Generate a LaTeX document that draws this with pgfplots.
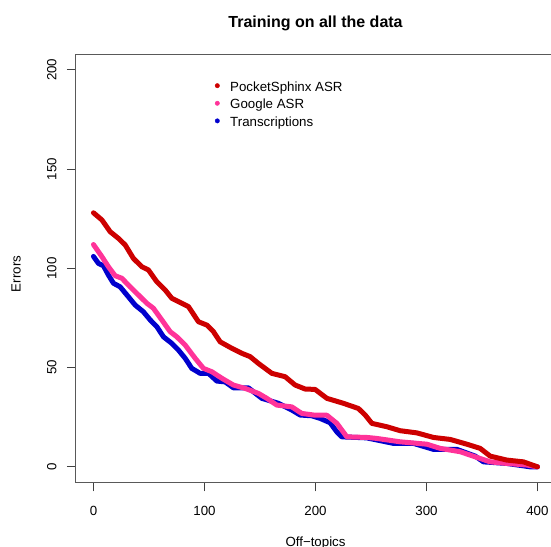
\documentclass[border=0pt]{standalone}
\usepackage{pgfplots}
\pgfplotsset{compat=1.18}
\usepackage{fontspec}
\setmainfont{Liberation Sans}
\definecolor{rred}{HTML}{CD0000}
\definecolor{rpink}{HTML}{FF3399}
\definecolor{rblue}{HTML}{0000CD}
\begin{document}
\begin{tikzpicture}[x=1pt,y=1pt]
\begin{axis}[
  at={(75.7pt,63.3pt)}, anchor=south west,
  scale only axis, width=479.5pt, height=428.7pt,
  xmin=-16, xmax=416, ymin=-8, ymax=208,
  xtick={0,100,200,300,400}, ytick={0,50,100,150,200},
  tick align=outside, major tick length=8.7pt,
  xtick pos=bottom, ytick pos=left,
  axis line style={draw=black!65, line width=0.9pt},
  every tick/.style={draw=black!75, line width=0.9pt},
  /pgf/number format/assume math mode=true,
  tick label style={font=\fontsize{13.3}{16}\selectfont},
  xticklabel shift=11pt, yticklabel shift=7pt,
  yticklabel style={rotate=90, anchor=south},
  legend style={at={(0.2891,0.9408)}, anchor=north west, draw=none, fill=none,
    inner sep=0pt, outer sep=0pt, row sep=0pt,
    nodes={inner sep=0pt, text height=12pt, text depth=5.6pt},
    font=\fontsize{13.3}{16}\selectfont},
  legend cell align=left,
  legend image code/.code={\path[draw=none,fill=none] (-3pt,0pt) -- (12.9pt,0pt); \fill (0pt,2.5pt) circle (2.2pt);},
]
\addlegendimage{rred}
\addlegendentry{PocketSphinx ASR}
\addlegendimage{rpink}
\addlegendentry{Google ASR}
\addlegendimage{rblue}
\addlegendentry{Transcriptions}
\addplot[rblue, line width=5pt, line cap=round, line join=round, forget plot] coordinates {
(0,106) (4.5,102.5) (9,101.3) (13.5,96.6) (18,92.5) (24,90.7) (30.1,86.6) (37.6,81.5) (45,78.1) (51.1,74) (57.1,70.6) (63.1,65.5) (70.6,62.2) (76.6,58.8) (82.6,54.7) (88.6,49.6) (96.1,47.1) (103.6,47.1) (111.2,43.2) (118.6,42.8) (126.1,39.8) (139.6,39.8) (151.7,34.5) (166.7,32) (178.7,28.6) (186.2,26.1) (196.7,25.7) (204.2,24.4) (213.2,22.2) (219.3,17.6) (223.8,15.1) (246,14.6) (270.3,11.8) (288.3,11.8) (306.3,8.8) (327.4,8.8) (343.9,5.4) (351.4,2.5) (372.4,1.7) (393.4,0) (400,0)
};
\addplot[rpink, line width=5pt, line cap=round, line join=round, forget plot] coordinates {
(0,112) (7.6,105.9) (13.5,100.8) (19.5,96.3) (25.6,95) (33,90.7) (40.5,86.6) (48.1,82.4) (54,79.9) (61.6,74) (69.1,68.1) (75.1,65.5) (82.6,61.4) (91.6,54.7) (99.1,49.6) (106.7,47.9) (115.7,44.6) (126.1,41.2) (136.7,39.5) (148.6,37) (156.2,34.5) (165.2,31.1) (178.7,30.2) (187.7,26.9) (199.7,26) (210.3,26) (219.3,21.9) (228.3,15.1) (246.3,14.8) (255.3,14.3) (276.3,12.6) (300.4,11.4) (312.3,9.3) (330.4,7.6) (339.4,5.9) (348.4,4.2) (357.4,2.5) (372.4,1.7) (390.5,0.9) (400,0)
};
\addplot[rred, line width=5pt, line cap=round, line join=round, forget plot] coordinates {
(0,128) (7.6,124.4) (15,118.5) (22.5,115.1) (28.6,111.8) (36,105) (43.6,100.8) (49.5,99.2) (57,93.3) (64.6,89.1) (70.6,84.9) (79.6,82.4) (85.6,80.7) (94.6,73.1) (102.2,71.4) (108.1,68.1) (114.1,63) (124.7,59.7) (133.7,57.2) (141.2,55.5) (148.6,52.1) (160.7,47.1) (172.7,45.4) (181.7,41.2) (190.7,39.2) (199.7,39) (210.3,34.5) (225.2,32) (238.7,29.4) (244.8,26.1) (250.8,21.9) (264.3,20.2) (276.3,18.2) (291.4,17.1) (306.3,14.8) (321.4,13.8) (336.4,11.4) (348.4,9.3) (357.4,5.4) (372.4,3.4) (387.4,2.5) (400,0)
};
\end{axis}
\node[anchor=base, font=\fontsize{16}{19}\selectfont\bfseries] at (315.5,518.6) {Training on all the data};
\node[anchor=base, font=\fontsize{13.3}{16}\selectfont] at (315.5,0) {Off{\char"2212}topics};
\node[anchor=base, rotate=90, font=\fontsize{13.3}{16}\selectfont] at (20.7,272) {Errors};
\pgfresetboundingbox
\useasboundingbox (0,0) rectangle (551,546);
\end{tikzpicture}
\end{document}
